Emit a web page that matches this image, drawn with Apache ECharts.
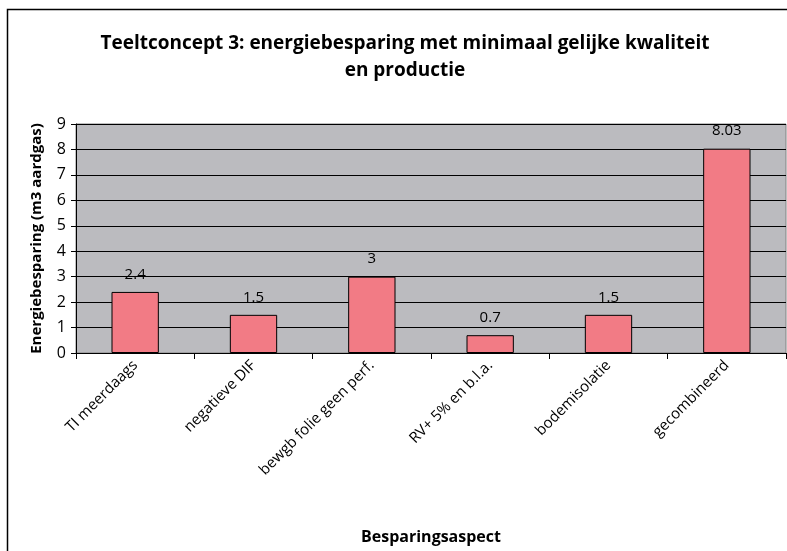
<!DOCTYPE html>
<html>
<head>
<meta charset="utf-8">
<script src="https://cdn.jsdelivr.net/npm/echarts@6/dist/echarts.min.js"></script>
<style>
html,body{margin:0;padding:0;background:#fff;}
#c{width:787px;height:551px;}
</style>
</head>
<body>
<div id="c"></div>
<script>
const categories = ["TI meerdaags", "negatieve DIF", "bewgb folie geen perf.", "RV+ 5% en b.l.a.", "bodemisolatie", "gecombineerd"];
const savings = [2.4, 1.5, 3, 0.7, 1.5, 8.03];
const yTicks = [0, 1, 2, 3, 4, 5, 6, 7, 8, 9];

const chart = echarts.init(document.getElementById('c'), null, {renderer: 'canvas'});
const FONT = 'Open Sans';
chart.setOption({
  animation: false,
  backgroundColor: '#ffffff',
  graphic: [{
    type: 'rect',
    shape: {x: 7.5, y: 9.5, width: 800, height: 600},
    style: {fill: 'none', stroke: '#000', lineWidth: 1.5},
    z: -1
  }],
  title: {
    text: 'Teeltconcept 3: energiebesparing met minimaal gelijke kwaliteit\nen productie',
    left: 400,
    textAlign: 'center',
    top: 25,
    textStyle: {fontFamily: FONT, fontWeight: 'bold', fontSize: 19, lineHeight: 27, color: '#000'}
  },
  grid: {left: 76, right: 1, top: 124, bottom: 198, containLabel: false, show: true, backgroundColor: '#bbbbbf', borderColor: '#808080', borderWidth: 1},
  xAxis: {
    type: 'category',
    data: categories,
    name: 'Besparingsaspect',
    nameLocation: 'middle',
    nameGap: 176,
    nameTextStyle: {fontFamily: FONT, fontWeight: 'bold', fontSize: 16, color: '#000'},
    axisLine: {lineStyle: {color: '#000', width: 1}},
    axisTick: {show: true, alignWithLabel: false, length: 6, lineStyle: {color: '#000'}},
    axisLabel: {rotate: 45, interval: 0, margin: 10, fontFamily: FONT, fontSize: 15, color: '#000'}
  },
  yAxis: {
    type: 'value',
    min: 0, max: 9, interval: 1,
    name: 'Energiebesparing (m3 aardgas)',
    nameLocation: 'middle',
    nameGap: 32,
    nameTextStyle: {fontFamily: FONT, fontWeight: 'bold', fontSize: 15, color: '#000'},
    axisLine: {show: true, lineStyle: {color: '#000'}},
    axisTick: {show: true, length: 5, lineStyle: {color: '#000'}},
    axisLabel: {fontFamily: FONT, fontSize: 16, color: '#000', margin: 10,
      formatter: v => yTicks.includes(v) ? String(v) : ''},
    splitLine: {show: true, lineStyle: {color: '#000', width: 1}}
  },
  series: [{
    type: 'bar',
    data: savings,
    barWidth: '40%',
    itemStyle: {color: '#f27b85', borderColor: '#000', borderWidth: 1},
    label: {show: true, position: 'top', distance: 10, fontFamily: FONT, fontSize: 15, color: '#000',
      formatter: p => String(p.value)}
  }]
});
</script>
</body>
</html>
